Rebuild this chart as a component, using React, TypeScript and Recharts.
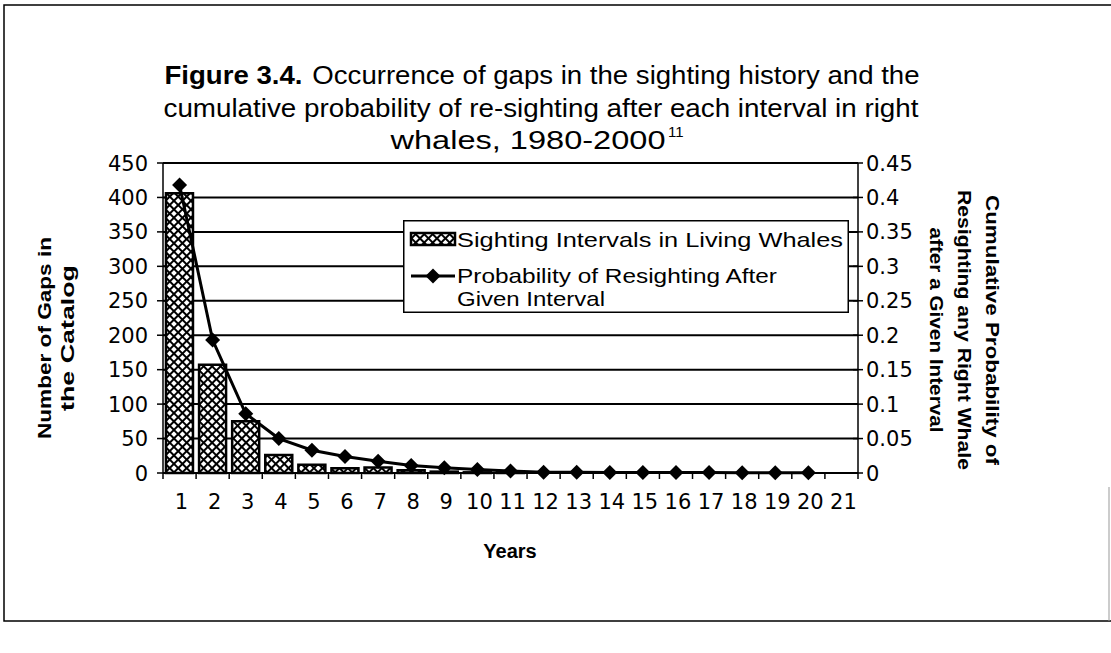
import React from "react";
import { ComposedChart, Bar, Line, XAxis, YAxis, CartesianGrid, Legend } from "recharts";

// interval length in years
const years = ["1", "2", "3", "4", "5", "6", "7", "8", "9", "10", "11", "12", "13", "14", "15", "16", "17", "18", "19", "20", "21"];
// number of gaps in the catalog (bars, left axis)
const gapCounts = [406, 157, 75, 26, 12, 7, 8, 4, 2, 1, 1, 0, 0, 0, 0, 0, 0, 0, 0, 0, 0];
// cumulative probability of resighting (line, right axis)
const resightProb = [0.418, 0.193, 0.086, 0.05, 0.033, 0.024, 0.017, 0.011, 0.0075, 0.005, 0.003, 0.001, 0.001, 0.0008, 0.0007, 0.0006, 0.0006, 0.0005, 0.0005, 0.0005, null];
const leftTicks = [0, 50, 100, 150, 200, 250, 300, 350, 400, 450];
const rightTicks = [0, 0.05, 0.1, 0.15, 0.2, 0.25, 0.3, 0.35, 0.4, 0.45];

const data = years.map((year, i) => ({ year, gaps: gapCounts[i], prob: resightProb[i] }));

const FONT = "'Liberation Sans', Arial, sans-serif";
const TICK_FONT = "'DejaVu Sans', 'Liberation Sans', sans-serif";
const W = 1111;
const H = 653;
const M = { top: 163, right: 193, bottom: 140, left: 103 };
const BAND = (W - M.left - M.right - 120) / years.length;

const Diamond = (props: any) => {
  const { cx, cy } = props;
  if (cx == null || cy == null || props.value == null) return null;
  const r = 7.5;
  return <polygon points={`${cx},${cy - r} ${cx + r},${cy} ${cx},${cy + r} ${cx - r},${cy}`} fill="#000" />;
};

const YearTick = (props: any) => {
  const { x, y, payload, index } = props;
  const half = BAND / 2;
  return (
    <g>
      <line x1={x - half} x2={x - half} y1={y} y2={y + 6} stroke="#000" strokeWidth={1.5} />
      {index === years.length - 1 && <line x1={x + half} x2={x + half} y1={y} y2={y + 6} stroke="#000" strokeWidth={1.5} />}
      <text x={x + 2} y={y + 36} textAnchor="middle" fontSize={21} fontFamily={TICK_FONT} fill="#000">
        {payload.value}
      </text>
    </g>
  );
};

// left: text sits 15px left of the axis line
const LeftTick = (props: any) => {
  const { x, y, payload } = props;
  const ax = x + 15;
  return (
    <g>
      <line x1={ax - 6} x2={ax + 4} y1={y} y2={y} stroke="#000" strokeWidth={1.5} />
      <text x={x} y={y} dy="0.36em" textAnchor="end" fontSize={21} fontFamily={TICK_FONT} fill="#000">
        {payload.value}
      </text>
    </g>
  );
};

// right: text sits 8px right of the axis line
const RightTick = (props: any) => {
  const { x, y, payload } = props;
  const ax = x - 8;
  return (
    <g>
      <line x1={ax - 5} x2={ax + 5} y1={y} y2={y} stroke="#000" strokeWidth={1.5} />
      <text x={x} y={y} dy="0.36em" textAnchor="start" fontSize={21} fontFamily={TICK_FONT} fill="#000">
        {payload.value}
      </text>
    </g>
  );
};

// crosshatch: two sets of lines turned 45deg, leaving white diamonds
const Hatch = ({ id }: { id: string }) => (
  <pattern id={id} width={6} height={6} patternUnits="userSpaceOnUse" patternTransform="rotate(45)">
    <rect width={6} height={6} fill="#fff" />
    <rect width={2} height={6} fill="#000" />
    <rect width={6} height={2} fill="#000" />
  </pattern>
);

const LegendBox = () => (
  <svg width={446} height={93} style={{ display: "block" }}>
    <defs>
      <Hatch id="hatchLegend" />
    </defs>
    <rect x={0.75} y={0.75} width={444.5} height={91.5} fill="#fff" stroke="#000" strokeWidth={1.5} />
    <rect x={8} y={13} width={44} height={12} fill="url(#hatchLegend)" stroke="#000" strokeWidth={2.5} />
    <text x={54} y={27} fontSize={21} fontFamily={FONT} textLength={386} lengthAdjust="spacingAndGlyphs">
      Sighting Intervals in Living Whales
    </text>
    <line x1={8} x2={52} y1={56} y2={56} stroke="#000" strokeWidth={3} />
    <polygon points="30,48.5 37.5,56 30,63.5 22.5,56" fill="#000" />
    <text x={54} y={63} fontSize={21} fontFamily={FONT} textLength={320} lengthAdjust="spacingAndGlyphs">
      Probability of Resighting After
    </text>
    <text x={54} y={86} fontSize={21} fontFamily={FONT} textLength={148} lengthAdjust="spacingAndGlyphs">
      Given Interval
    </text>
  </svg>
);

export default function App() {
  return (
    <div style={{ position: "absolute", left: 0, top: 0, width: W, height: H, background: "#fff" }}>
      <ComposedChart width={W} height={H} data={data} margin={M} barCategoryGap="9%">
        <defs>
          <Hatch id="hatchBars" />
        </defs>
        <CartesianGrid yAxisId="left" horizontal vertical={false} stroke="#000" strokeWidth={2} />
        <XAxis
          dataKey="year"
          interval={0}
          tickLine={false}
          tickSize={0}
          tickMargin={0}
          tick={<YearTick />}
          axisLine={{ stroke: "#000", strokeWidth: 2 }}
          height={40}
        />
        <YAxis
          yAxisId="left"
          domain={[0, 450]}
          ticks={leftTicks}
          interval={0}
          width={60}
          tickSize={6}
          tickMargin={9}
          tickLine={false}
          tick={<LeftTick />}
          axisLine={{ stroke: "#000", strokeWidth: 1.5 }}
        />
        <YAxis
          yAxisId="right"
          orientation="right"
          domain={[0, 0.45]}
          ticks={rightTicks}
          interval={0}
          width={60}
          tickSize={5}
          tickMargin={3}
          tickLine={false}
          tick={<RightTick />}
          axisLine={{ stroke: "#000", strokeWidth: 1.5 }}
        />
        <Legend
          layout="horizontal"
          verticalAlign="middle"
          align="center"
          wrapperStyle={{ left: 403, top: 220, width: 446, height: 93 }}
          content={() => <LegendBox />}
        />
        <Bar
          yAxisId="left"
          dataKey="gaps"
          name="Sighting Intervals in Living Whales"
          fill="url(#hatchBars)"
          stroke="#000"
          strokeWidth={2.5}
          isAnimationActive={false}
        />
        <Line
          yAxisId="right"
          dataKey="prob"
          name="Probability of Resighting After Given Interval"
          stroke="#000"
          strokeWidth={3}
          dot={<Diamond />}
          activeDot={false}
          isAnimationActive={false}
        />
      </ComposedChart>
      <svg
        width={W}
        height={H}
        style={{ position: "absolute", left: 0, top: 0, pointerEvents: "none" }}
        fontFamily={FONT}
      >
        <path d="M1111 5 H4 V621 H1111" fill="none" stroke="#000" strokeWidth={1.5} />
        <line x1={1109} x2={1109} y1={487} y2={621} stroke="#999" strokeWidth={1} />
        <text x={542} y={84} textAnchor="middle" fontSize={25} textLength={755} lengthAdjust="spacingAndGlyphs">
          <tspan fontWeight="bold">Figure 3.4.</tspan>
          <tspan dx={9}>Occurrence of gaps in the sighting history and the</tspan>
        </text>
        <text x={541} y={117} textAnchor="middle" fontSize={25} textLength={755} lengthAdjust="spacingAndGlyphs">
          cumulative probability of re-sighting after each interval in right
        </text>
        <text x={528} y={149} textAnchor="middle" fontSize={25} textLength={275} lengthAdjust="spacingAndGlyphs">
          whales, 1980-2000
        </text>
        <text x={668} y={137} fontSize={15}>11</text>
        <text x={510} y={558} textAnchor="middle" fontSize={20} fontWeight="bold">Years</text>
        <g transform="translate(51,338) rotate(-90)">
          <text x={0} y={0} textAnchor="middle" fontSize={19} fontWeight="bold" textLength={202} lengthAdjust="spacingAndGlyphs">
            Number of Gaps in
          </text>
          <text x={0} y={23} textAnchor="middle" fontSize={19} fontWeight="bold" textLength={146} lengthAdjust="spacingAndGlyphs">
            the Catalog
          </text>
        </g>
        <g transform="translate(986,330) rotate(90)">
          <text x={0} y={0} textAnchor="middle" fontSize={19} fontWeight="bold" textLength={270} lengthAdjust="spacingAndGlyphs">
            Cumulative Probability of
          </text>
          <text x={0} y={28} textAnchor="middle" fontSize={19} fontWeight="bold" textLength={280} lengthAdjust="spacingAndGlyphs">
            Resighting any Right Whale
          </text>
          <text x={0} y={56} textAnchor="middle" fontSize={19} fontWeight="bold" textLength={205} lengthAdjust="spacingAndGlyphs">
            after a Given Interval
          </text>
        </g>
      </svg>
    </div>
  );
}
